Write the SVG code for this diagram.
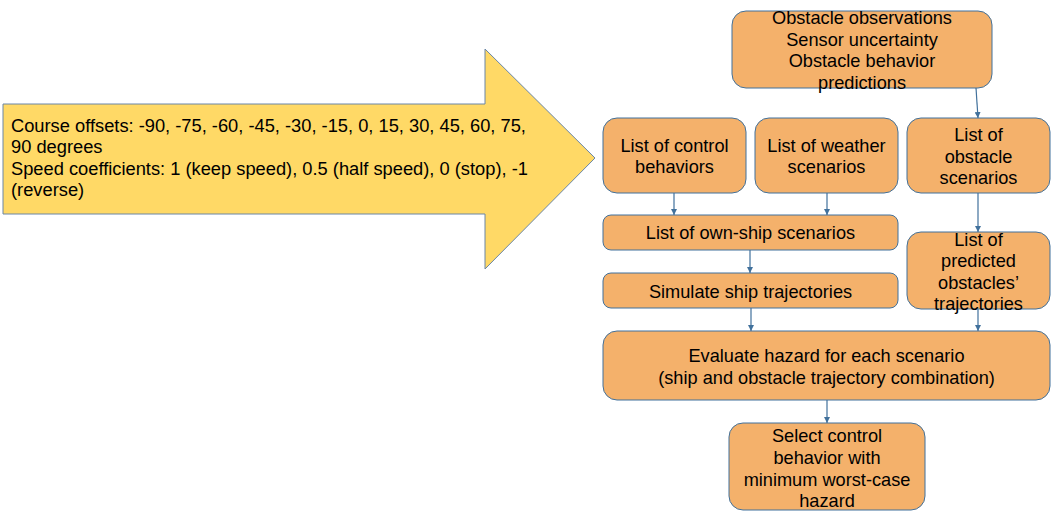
<svg xmlns="http://www.w3.org/2000/svg" width="1051" height="522" viewBox="0 0 1051 522">
<style>
.box{fill:#f4b16b;stroke:#41719c;stroke-width:1}
.t{font-family:"Liberation Sans",Arial,sans-serif;font-size:18.2px;fill:#000;text-anchor:middle}
.tl{font-family:"Liberation Sans",Arial,sans-serif;font-size:18.3px;fill:#000}
.c{stroke:#41719c;stroke-width:1.2;fill:none;marker-end:url(#ah)}
</style>
<defs>
<marker id="ah" viewBox="0 0 10 10" refX="10" refY="5" markerWidth="6" markerHeight="6" markerUnits="userSpaceOnUse" orient="auto">
<path d="M0,0 L10,5 L0,10 z" fill="#41719c"/>
</marker>
</defs>
<rect width="1051" height="522" fill="#fff"/>
<g id="bigArrow">
<path d="M3,104 H485 V49 L595,158 L485,269 V214 H3 Z" fill="#ffd966" stroke="#6a86a6" stroke-width="1"/>
<text class="tl" x="11" y="132">Course offsets: -90, -75, -60, -45, -30, -15, 0, 15, 30, 45, 60, 75,</text>
<text class="tl" x="11" y="153">90 degrees</text>
<text class="tl" x="11" y="175">Speed coefficients: 1 (keep speed), 0.5 (half speed), 0 (stop), -1</text>
<text class="tl" x="11" y="196">(reverse)</text>
</g>
<g id="obsInput">
<rect class="box" x="732" y="11" width="260" height="77" rx="14"/>
<text class="t" x="862" y="24">Obstacle observations</text>
<text class="t" x="862" y="46">Sensor uncertainty</text>
<text class="t" x="862" y="67">Obstacle behavior</text>
<text class="t" x="862" y="89">predictions</text>
</g>
<g id="controlBehaviors">
<rect class="box" x="603" y="118" width="143" height="75" rx="14"/>
<text class="t" x="674.5" y="152">List of control</text>
<text class="t" x="674.5" y="173">behaviors</text>
</g>
<g id="weatherScenarios">
<rect class="box" x="755" y="118" width="143" height="75" rx="14"/>
<text class="t" x="826.5" y="152">List of weather</text>
<text class="t" x="826.5" y="173">scenarios</text>
</g>
<g id="obstacleScenarios">
<rect class="box" x="907" y="118" width="143" height="75" rx="14"/>
<text class="t" x="978.5" y="141">List of</text>
<text class="t" x="978.5" y="163">obstacle</text>
<text class="t" x="978.5" y="184">scenarios</text>
</g>
<g id="ownShipScenarios">
<rect class="box" x="603" y="215" width="295" height="35" rx="8"/>
<text class="t" x="750.5" y="239">List of own-ship scenarios</text>
</g>
<g id="simulate">
<rect class="box" x="603" y="273" width="295" height="35" rx="8"/>
<text class="t" x="750.5" y="298">Simulate ship trajectories</text>
</g>
<g id="predictedTrajectories">
<rect class="box" x="907" y="232" width="143" height="77" rx="14"/>
<text class="t" x="978.5" y="246">List of</text>
<text class="t" x="978.5" y="267">predicted</text>
<text class="t" x="978.5" y="289">obstacles’</text>
<text class="t" x="978.5" y="310">trajectories</text>
</g>
<g id="evaluate">
<rect class="box" x="603" y="331" width="447" height="69" rx="14"/>
<text class="t" x="826.5" y="362">Evaluate hazard for each scenario</text>
<text class="t" x="826.5" y="384">(ship and obstacle trajectory combination)</text>
</g>
<g id="select">
<rect class="box" x="729" y="423" width="196" height="87" rx="14"/>
<text class="t" x="827" y="442">Select control</text>
<text class="t" x="827" y="464">behavior with</text>
<text class="t" x="827" y="486">minimum worst-case</text>
<text class="t" x="827" y="507">hazard</text>
</g>
<g id="connectors">
<line class="c" x1="976" y1="88" x2="978" y2="118"/>
<line class="c" x1="674" y1="193" x2="674" y2="215"/>
<line class="c" x1="827" y1="193" x2="827" y2="215"/>
<line class="c" x1="978" y1="193" x2="978" y2="232"/>
<line class="c" x1="750" y1="250" x2="750" y2="273"/>
<line class="c" x1="751" y1="308" x2="751" y2="331"/>
<line class="c" x1="978" y1="309" x2="978" y2="331"/>
<line class="c" x1="827" y1="400" x2="827" y2="423"/>
</g>
</svg>
